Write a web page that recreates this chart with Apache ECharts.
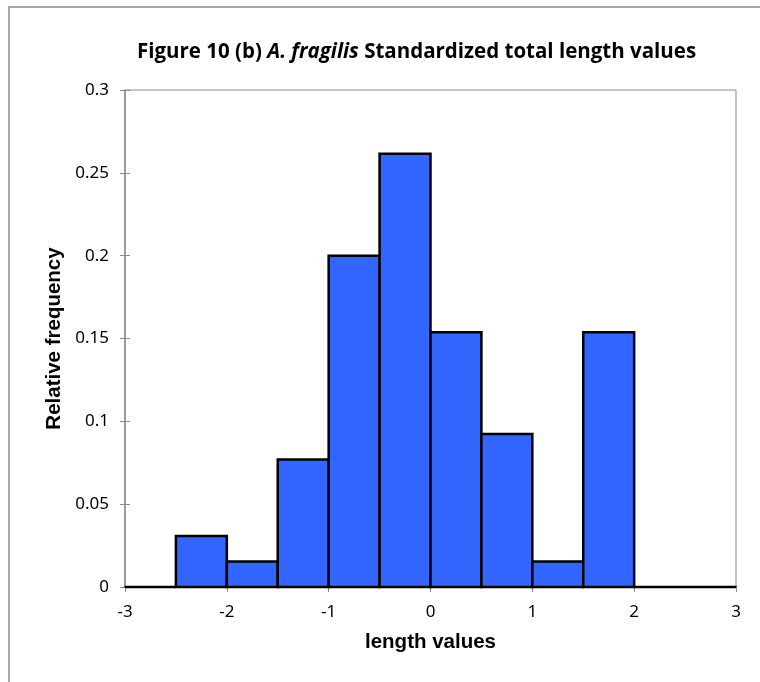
<!DOCTYPE html>
<html>
<head>
<meta charset="utf-8">
<script src="https://cdn.jsdelivr.net/npm/echarts@6/dist/echarts.min.js"></script>
<style>
	html, body { margin: 0; padding: 0; background: #fff; }
	#chart { width: 760px; height: 682px; }
</style>
</head>
<body>
<div id="chart"></div>
<script>
// histogram bins (lower edge, upper edge) and relative frequency
var binStart = [-3, -2.5, -2, -1.5, -1, -0.5, 0, 0.5, 1, 1.5, 2, 2.5];
var binEnd = [-2.5, -2, -1.5, -1, -0.5, 0, 0.5, 1, 1.5, 2, 2.5, 3];
var relFreq = [0, 0.0308, 0.0154, 0.0769, 0.2, 0.2615, 0.1538, 0.0923, 0.0154, 0.1538, 0, 0];
var yTicks = [0, 0.05, 0.1, 0.15, 0.2, 0.25, 0.3];
var xTicks = [-3, -2, -1, 0, 1, 2, 3];

var chart = echarts.init(document.getElementById('chart'));

var data = [];
for (var i = 0; i < relFreq.length; i++) {
	data.push([binStart[i], binEnd[i], relFreq[i]]);
}

var tickFont = '"Noto Sans", "Open Sans", sans-serif';
var nameFont = '"Liberation Sans", Arial, sans-serif';

var option = {
	animation: false,
	title: {
		text: '{a|Figure 10 (b) }{b|A. fragilis}{a| Standardized total length values}',
		left: 132,
		top: 37,
		textStyle: {
			rich: {
				a: { fontFamily: '"Open Sans", sans-serif', fontWeight: 'bold', fontSize: 20.5, color: '#000' },
				b: { fontFamily: '"Open Sans", sans-serif', fontWeight: 'bold', fontStyle: 'italic', fontSize: 20.5, color: '#000' }
			}
		}
	},
	graphic: [{
		type: 'rect',
		shape: { x: 9, y: 7, width: 760, height: 700 },
		style: { fill: 'none', stroke: '#8c8c8c', lineWidth: 1.5 },
		silent: true,
		z: -1
	}],
	grid: {
		left: 125,
		right: 24,
		top: 90,
		bottom: 95,
		show: true,
		borderColor: '#8c8c8c',
		borderWidth: 1
	},
	xAxis: {
		type: 'value',
		min: xTicks[0],
		max: xTicks[xTicks.length - 1],
		interval: 1,
		name: 'length values',
		nameLocation: 'middle',
		nameGap: 45,
		nameTextStyle: { fontFamily: nameFont, fontWeight: 'bold', fontSize: 20.5, color: '#000' },
		axisLine: { onZero: false, lineStyle: { color: '#000', width: 2 } },
		axisTick: { show: true, length: 5, lineStyle: { color: '#8c8c8c' } },
		axisLabel: { margin: 17, fontFamily: tickFont, fontSize: 17, color: '#000' },
		splitLine: { show: false }
	},
	yAxis: [{
		type: 'value',
		min: yTicks[0],
		max: yTicks[yTicks.length - 1],
		interval: 0.05,
		name: 'Relative frequency',
		nameLocation: 'middle',
		nameGap: 48,
		nameTextStyle: { fontFamily: nameFont, fontWeight: 'bold', fontSize: 20.5, color: '#000' },
		axisLine: { show: true, onZero: false, lineStyle: { color: '#8c8c8c', width: 1.5 } },
		axisTick: { show: true, length: 5, lineStyle: { color: '#8c8c8c' } },
		axisLabel: { margin: 16, fontFamily: tickFont, fontSize: 17, color: '#000' },
		splitLine: { show: false }
	}, {
		// second axis only to give the ticks an inside half
		type: 'value',
		position: 'left',
		min: yTicks[0],
		max: yTicks[yTicks.length - 1],
		interval: 0.05,
		axisLine: { show: false, onZero: false },
		axisTick: { show: true, inside: true, length: 5, lineStyle: { color: '#8c8c8c' } },
		axisLabel: { show: false },
		splitLine: { show: false }
	}],
	series: [{
		type: 'custom',
		data: data,
		encode: { x: [0, 1], y: 2 },
		renderItem: function(params, api) {
			var p0 = api.coord([api.value(0), 0]);
			var p1 = api.coord([api.value(1), api.value(2)]);
			return {
				type: 'rect',
				shape: { x: p0[0], y: p1[1], width: p1[0] - p0[0], height: p0[1] - p1[1] },
				style: { fill: '#3366ff', stroke: '#000', lineWidth: 2.5 }
			};
		}
	}]
};

chart.setOption(option);
</script>
</body>
</html>
